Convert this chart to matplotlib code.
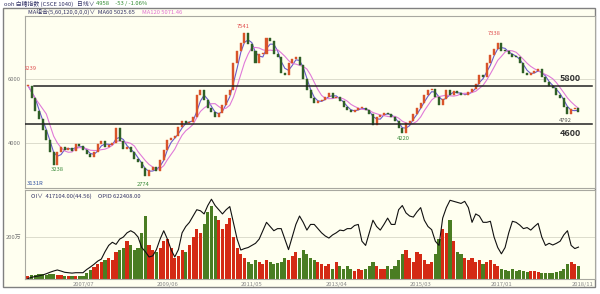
import numpy as np
import pandas as pd
import matplotlib
matplotlib.use("Agg")
import matplotlib.pyplot as plt
from matplotlib.patches import Rectangle

plt.rcParams['font.family'] = ['Noto Sans CJK SC', 'DejaVu Sans']

# monthly closes, 2006/04 .. 2018/10
close = [5800, 5400, 5000, 4750, 4400, 4100, 3700, 3300, 3720, 3850,
         3780, 3840, 3750, 3950, 3900, 3780, 3640, 3560, 3700, 3950,
         4050, 3880, 3920, 4000, 4450, 4050, 3800, 3870, 3700, 3500,
         3380, 3200, 2950, 3150, 3220, 3100, 3450, 3780, 4090, 4150,
         4200, 4500, 4700, 4620, 4650, 4800, 5500, 5650, 5350, 5100,
         4980, 4810, 4950, 5200, 5500, 5650, 6500, 6900, 7150, 7450,
         7125, 6900, 6500, 6800, 6810, 7300, 7220, 6800, 6690, 6200,
         6150, 6500, 6650, 6690, 6450, 6000, 5650, 5400, 5260, 5300,
         5350, 5440, 5580, 5420, 5430, 5300, 5120, 5020, 4970, 5030,
         5100, 5100, 5030, 4900, 4550, 4800, 4880, 4950, 4900, 4800,
         4670, 4450, 4300, 4630, 4690, 4900, 5100, 5250, 5500, 5650,
         5680, 5450, 5200, 5380, 5650, 5520, 5620, 5580, 5500, 5500,
         5600, 5700, 5850, 6150, 6060, 6500, 6780, 6950, 7150, 6900,
         6880, 6800, 6700, 6690, 6500, 6200, 6150, 6200, 6250, 6340,
         6080, 5900, 5800, 5720, 5520, 5400, 5125, 4900, 5050, 5080,
         4958]

# volume (万)
volume = [15, 20, 18, 22, 25, 20, 22, 25, 20, 18,
          15, 15, 12, 15, 12, 12, 30, 45, 55, 70,
          80, 90, 100, 90, 130, 140, 150, 180, 160, 140,
          150, 220, 300, 160, 140, 130, 150, 180, 190, 150,
          100, 110, 140, 130, 160, 200, 240, 220, 260, 320,
          350, 300, 280, 240, 260, 290, 200, 150, 120, 100,
          80, 70, 90, 80, 70, 90, 80, 70, 75, 80,
          100, 90, 110, 130, 100, 140, 120, 100, 90, 80,
          70, 60, 70, 50, 80, 60, 50, 60, 50, 40,
          50, 45, 50, 60, 80, 60, 50, 50, 60, 50,
          60, 90, 120, 140, 100, 80, 130, 120, 90, 70,
          80, 120, 190, 240, 220, 280, 180, 130, 120, 100,
          90, 100, 80, 90, 70, 80, 90, 70, 60, 50,
          45, 40, 50, 40, 45, 40, 35, 40, 40, 35,
          30, 30, 30, 30, 35, 40, 50, 70, 80, 70,
          60]

# open interest (万)
oi = [2, 8, 12, 15, 19, 25, 32, 38, 43, 38,
      32, 30, 28, 30, 30, 30, 45, 57, 70, 85,
      95, 130, 160, 175, 165, 190, 200, 220, 230, 220,
      200, 150, 130, 105, 110, 140, 190, 230, 190, 140,
      105, 140, 220, 250, 270, 300, 330, 325, 310, 350,
      380, 350, 330, 310, 330, 345, 267, 190, 138, 145,
      150, 160, 170, 190, 230, 270, 250, 230, 240, 240,
      190, 140, 200, 260, 300, 270, 233, 260, 260, 240,
      220, 205, 195, 210, 220, 233, 230, 240, 240, 255,
      260, 180, 160, 220, 280, 250, 233, 260, 290, 260,
      260, 330, 350, 315, 300, 295, 320, 340, 280, 250,
      235, 180, 160, 290, 340, 375, 370, 365, 360, 370,
      340, 270, 310, 300, 270, 270, 275, 200, 150, 120,
      150, 220, 275, 270, 257, 240, 245, 233, 250, 265,
      200, 160, 170, 162, 170, 180, 210, 230, 160, 145,
      152]

tick_pos = [15, 38, 61, 84, 107, 129, 151]
tick_labels = ["2007/07", "2009/06", "2011/05", "2013/04", "2015/03", "2017/01", "2018/11"]
levels = [5800, 4600]

W, H = 600, 294
def rect(x0, y0, x1, y1):
    return [x0 / W, 1 - y1 / H, (x1 - x0) / W, (y1 - y0) / H]

cream = '#fffff0'
fig = plt.figure(figsize=(6, 2.94), dpi=100, facecolor='white')
frame = Rectangle((3 / W, 1 - 287 / H), 592 / W, 279 / H, transform=fig.transFigure,
                  facecolor=cream, edgecolor='#808080', linewidth=1.0, zorder=-10)
fig.add_artist(frame)

df = pd.DataFrame({"close": close, "vol": volume, "oi": oi})
df["open"] = df["close"].shift(1).fillna(df["close"])
df["ma60"] = df["close"].rolling(3, min_periods=1).mean()
df["ma120"] = df["close"].rolling(6, min_periods=1).mean()
x = np.arange(len(df))
up = df["close"] >= df["open"]

# ---- price panel
ax = fig.add_axes(rect(25, 16, 595, 188))
ax.set_facecolor(cream)
ax.set_xlim(-0.8, 154.5)
ax.set_ylim(2571, 7997)
for y in [6000, 4000]:
    ax.axhline(y, color='#dcdccc', linewidth=0.7, zorder=0)
body = (df["close"] - df["open"]).where(lambda s: s.abs() > 20, 20)
ax.bar(x, body, bottom=df["open"], width=0.55,
       color=np.where(up, '#d9542a', '#2f5f26'), edgecolor=np.where(up, '#d9542a', '#2f5f26'),
       linewidth=0.3, zorder=3)
ax.plot(x, df["ma60"], color='#6a5acd', linewidth=0.8, zorder=2)
ax.plot(x, df["ma120"], color='#e07ad8', linewidth=0.8, zorder=2)
ax.axhline(levels[0], xmin=0.015, xmax=0.995, color='#222222', linewidth=1.1, zorder=4)
ax.axhline(levels[1], xmin=0.0, xmax=0.995, color='#222222', linewidth=1.1, zorder=4)
ax.text(147.7, 6040, "5800", fontsize=6.5, fontweight='bold', color='#333333', ha='center', va='center')
ax.text(147.7, 4275, "4600", fontsize=6.5, fontweight='bold', color='#333333', ha='center', va='center')

ann = [("6239", 0.5, 6356, '#e05050'), ("3238", 7.9, 3139, '#3a8a3a'), ("2774", 31.3, 2697, '#3a8a3a'),
       ("7541", 58.6, 7650, '#e05050'), ("4220", 102.2, 4148, '#3a8a3a'), ("7338", 127, 7460, '#e05050'),
       ("4792", 146.4, 4685, '#555555')]
for t, xx, yy, c in ann:
    ax.text(xx, yy, t, fontsize=4.2, color=c, ha='center', va='center', clip_on=True)
ax.text(0.004, 0.025, "3131R", transform=ax.transAxes, fontsize=4.2, color='#3050a0', va='center')
ax.set_xticks([])
ax.set_yticks([6000, 4000])
ax.set_yticklabels(["6000", "4000"], fontsize=4.2, color='#777777')
ax.tick_params(axis='y', length=0, pad=3)
for s in ax.spines.values():
    s.set_color('#a8a8a0')
    s.set_linewidth(0.8)

# ---- volume / open interest panel
bx = fig.add_axes(rect(25, 190, 595, 279))
bx.set_facecolor(cream)
bx.set_xlim(-0.8, 154.5)
bx.set_ylim(0, 424)
bx.axhline(200, color='#dcdccc', linewidth=0.7, zorder=0)
bx.bar(x, df["vol"], width=0.85, color=np.where(up, '#d42a14', '#4a7d22'), linewidth=0, zorder=2)
bx.plot(x, df["oi"], color='#111111', linewidth=0.8, zorder=3)
bx.set_yticks([200])
bx.set_yticklabels(["200万"], fontsize=4.2, color='#777777')
bx.set_xticks(tick_pos)
bx.set_xticklabels(tick_labels, fontsize=4.2, color='#888888')
bx.tick_params(length=0, pad=2.5)
for s in bx.spines.values():
    s.set_color('#a8a8a0')
    s.set_linewidth(0.8)
bx.text(0.01, 0.93, "OI∨  417104.00(44.56)     OPID 622408.00", transform=bx.transAxes,
        fontsize=4.2, color='#333366', va='center')

# ---- header
fig.text(4 / W, 1 - 4 / H, "ooh 白糖指数 (CSCE 1040)   日线∨", fontsize=4.2, color='#333366', va='center')
fig.text(96 / W, 1 - 4 / H, "4958     -53 / -1.06%", fontsize=4.2, color='#2e8b2e', va='center')
fig.text(28 / W, 1 - 12 / H, "MA组合(5,60,120,0,0,0)∨  MA60 5025.65", fontsize=4.2, color='#333366', va='center')
fig.text(142 / W, 1 - 12 / H, "MA120 5071.46", fontsize=4.2, color='#e070d0', va='center')

fig.savefig("out.png", dpi=100, facecolor='white')
